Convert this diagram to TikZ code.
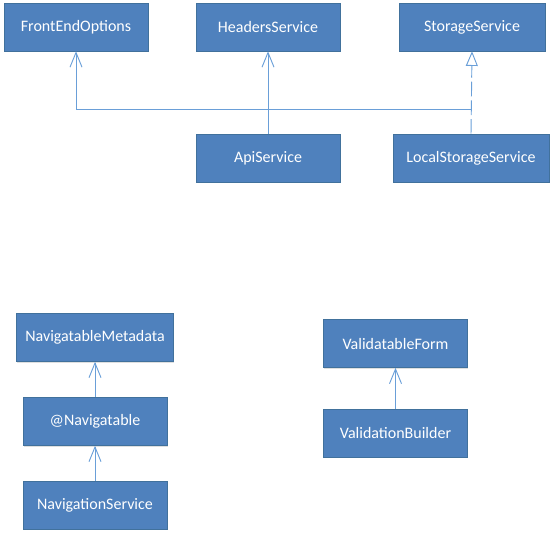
\documentclass[tikz,border=0pt]{standalone}
\usepackage{fontspec}
\setmainfont{Carlito}
\usetikzlibrary{arrows.meta,shadows}
\definecolor{boxfill}{HTML}{4F81BD}
\definecolor{boxdraw}{HTML}{41719C}
\definecolor{linkblue}{HTML}{6A9FD8}
\tikzset{
  cls/.style={draw=boxdraw,fill=boxfill,text=white,font=\fontsize{12}{14}\selectfont,
    minimum width=108pt,minimum height=36pt,inner sep=0pt,
    drop shadow={shadow xshift=0.6pt,shadow yshift=-0.8pt,opacity=0.25}},
  link/.style={draw=linkblue,line width=0.7pt},
  dep/.style={link,-{Straight Barb[length=11pt,width=9pt,line width=0.7pt]}},
  impl/.style={link,dash pattern=on 11pt off 3pt,-{Triangle[open,fill=white,length=11pt,width=9pt,line width=0.7pt]}}
}

\begin{document}
\begin{tikzpicture}[x=0.75pt,y=-0.75pt]
\useasboundingbox (0,0) rectangle (555,537);
% upper group: services
\node[cls] (frontend) at (76,27) {FrontEndOptions};
\node[cls] (headers) at (268,27) {HeadersService};
\node[cls,minimum width=109.5pt] (storage) at (472,27) {StorageService};
\node[cls] (api) at (268,158) {ApiService};
\node[cls,minimum width=117pt] (local) at (471,158) {LocalStorageService};
\coordinate (bend) at (268,109);
\coordinate (join) at (471,109);
\draw[dep] (api.north) -- (headers.south);
\draw[dep] (bend) -| (frontend.south);
\draw[link] (bend) -- (join);
\draw[impl] (local.north) -- (storage.south);
% lower left: navigation
\node[cls,minimum width=117.75pt] (navmeta) at (95,337.5) {NavigatableMetadata};
\node[cls] (nav) at (95,421.5) {@Navigatable};
\node[cls] (navsvc) at (95,505) {NavigationService};
\draw[dep] (nav) -- (navmeta);
\draw[dep] (navsvc) -- (nav);
% lower right: validation
\node[cls] (valform) at (395.5,343.5) {ValidatableForm};
\node[cls] (valbuilder) at (395.5,433) {ValidationBuilder};
\draw[dep] (valbuilder) -- (valform);
\end{tikzpicture}
\end{document}
